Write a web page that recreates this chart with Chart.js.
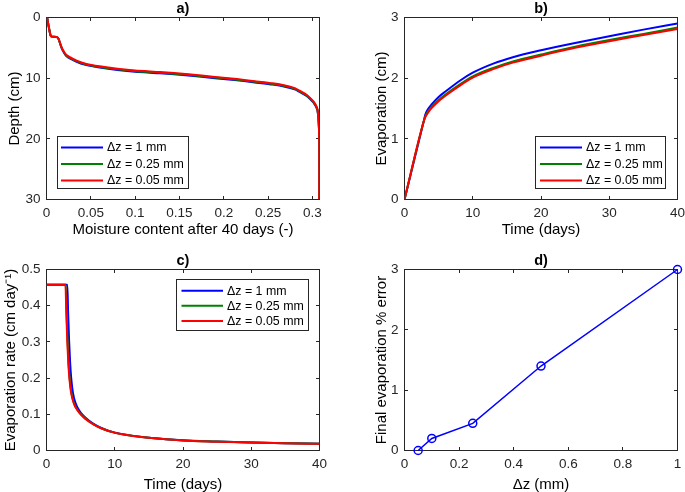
<!DOCTYPE html>
<html><head><meta charset="utf-8">
<script src="https://cdn.jsdelivr.net/npm/chart.js@4.4.1/dist/chart.umd.min.js"></script>
<style>
html,body{margin:0;padding:0;background:#fff;}
#wrap{position:relative;width:685px;height:492px;overflow:hidden;background:#fff;}
canvas{position:absolute;left:0;top:0;}
</style></head><body><div id="wrap">
<canvas id="ca" width="685" height="492"></canvas>
<canvas id="cb" width="685" height="492"></canvas>
<canvas id="cc" width="685" height="492"></canvas>
<canvas id="cd" width="685" height="492"></canvas>
</div>
<script>
// ---------- DATA ----------
const seriesLabels = ['\u0394z = 1 mm', '\u0394z = 0.25 mm', '\u0394z = 0.05 mm'];

// a) moisture profile after 40 days
const thetaA     = [0.0007,0.0025,0.0045,0.006,0.011,0.0135,0.0155,0.0176,0.0226,0.034,0.045,0.06,0.08,0.1,0.128,0.16,0.19,0.215,0.235,0.255,0.269,0.28,0.286,0.293,0.2976,0.302,0.3055,0.307,0.3077,0.3077];
const depthRed   = [0,1.5,2.9,3.15,3.2,3.5,4.3,5.1,6.2,7.1,7.65,8.05,8.45,8.75,9.0,9.35,9.8,10.15,10.5,10.85,11.2,11.65,12.1,12.7,13.3,14.0,15.0,17,20,30];
const depthGreen = [0,1.5,2.9,3.15,3.2,3.5,4.35,5.17,6.3,7.2,7.75,8.15,8.55,8.85,9.1,9.45,9.9,10.25,10.6,10.95,11.3,11.75,12.2,12.8,13.4,14.1,15.1,17.1,20,30];
const depthBlue  = [0,1.5,2.9,3.15,3.2,3.5,4.4,5.25,6.4,7.3,7.85,8.25,8.65,8.95,9.2,9.55,10.0,10.35,10.7,11.05,11.4,11.85,12.3,12.9,13.5,14.2,15.2,17.2,20,30];
const xTicksA = [0,0.05,0.1,0.15,0.2,0.25,0.3];
const yTicksA = [0,10,20,30];

// b) cumulative evaporation
const timeB      = [0,2.8,3.05,3.5,4,5,6,8,10,13,16,20,25,30,35,40];
const evapBlue   = [0,1.28,1.40,1.50,1.57,1.69,1.78,1.95,2.09,2.24,2.35,2.46,2.58,2.69,2.80,2.90];
const evapGreen  = [0,1.28,1.37,1.46,1.53,1.64,1.73,1.89,2.03,2.17,2.28,2.39,2.52,2.63,2.73,2.835];
const evapRed    = [0,1.28,1.36,1.44,1.51,1.62,1.71,1.87,2.01,2.15,2.26,2.37,2.50,2.61,2.71,2.81];
const xTicksB = [0,10,20,30,40];
const yTicksB = [0,1,2,3];

// c) evaporation rate
const timeCBlue  = [0,3.05,3.17,3.32,3.47,3.62,3.87,4.27,4.75,5.3,6.2,7.15,8.3,9.9,12,15,20,25,30,35,40];
const rateBlue   = [0.458,0.458,0.38,0.30,0.24,0.20,0.16,0.13,0.112,0.098,0.083,0.071,0.06,0.05,0.0425,0.0355,0.028,0.025,0.0224,0.0203,0.0187];
const timeCGreen = [0,2.82,2.94,3.09,3.24,3.39,3.64,4.04,4.54,5.14,6.03,7.02,8.2,9.8,12,15,20,25,30,35,40];
const rateGreen  = [0.458,0.458,0.38,0.30,0.24,0.20,0.16,0.13,0.112,0.098,0.083,0.071,0.06,0.05,0.042,0.0352,0.0278,0.0247,0.0222,0.0201,0.0185];
const timeCRed   = [0,2.78,2.9,3.05,3.2,3.35,3.6,4.0,4.5,5.1,6.0,7.0,8.2,9.8,12,15,20,25,30,35,40];
const rateRed    = [0.458,0.458,0.38,0.30,0.24,0.20,0.16,0.13,0.112,0.098,0.083,0.071,0.06,0.05,0.042,0.035,0.0276,0.0245,0.022,0.020,0.0184];
const xTicksC = [0,10,20,30,40];
const yTicksC = [0,0.1,0.2,0.3,0.4,0.5];

// d) final evaporation error
const dzD  = [0.05,0.1,0.25,0.5,1];
const errD = [0,0.2,0.45,1.4,3];
const xTicksD = [0,0.2,0.4,0.6,0.8,1];
const yTicksD = [0,1,2,3];

// ---------- STYLE ----------
const FONT = "'Liberation Sans', Arial, Helvetica, sans-serif";
const AXC = '#262626';
const COLORS = ['#0000ff', '#008000', '#ff0000'];
const W = 685, H = 492;

const pts = (xs, ys) => xs.map((v, i) => ({x: v, y: ys[i]}));
const fmt = v => String(parseFloat(Number(v).toFixed(6)));

const matlabPlugin = {
  id: 'matlab',
  beforeDatasetsDraw(chart, args, opts) {
    const {ctx, chartArea: a, scales: {x, y}} = chart;
    ctx.save();
    ctx.strokeStyle = AXC; ctx.lineWidth = 1;
    ctx.strokeRect(a.left, a.top, a.right - a.left, a.bottom - a.top);
    const tl = 3.5;
    ctx.beginPath();
    x.ticks.forEach(t => {
      const p = Math.round(x.getPixelForValue(t.value) - 0.5) + 0.5;
      ctx.moveTo(p, a.bottom); ctx.lineTo(p, a.bottom - tl);
      ctx.moveTo(p, a.top); ctx.lineTo(p, a.top + tl);
    });
    y.ticks.forEach(t => {
      const p = Math.round(y.getPixelForValue(t.value) - 0.5) + 0.5;
      ctx.moveTo(a.left, p); ctx.lineTo(a.left + tl, p);
      ctx.moveTo(a.right, p); ctx.lineTo(a.right - tl, p);
    });
    ctx.stroke();
    ctx.fillStyle = '#000';
    ctx.font = 'bold 14.5px ' + FONT;
    ctx.textAlign = 'center'; ctx.textBaseline = 'alphabetic';
    ctx.fillText(opts.title, (a.left + a.right) / 2, a.top - 5);
    ctx.restore();
  },
  afterDraw(chart, args, opts) {
    const lg = opts.legend;
    if (!lg) return;
    const ctx = chart.ctx;
    ctx.save();
    ctx.fillStyle = '#fff';
    ctx.fillRect(lg.x, lg.y, lg.w, lg.h);
    ctx.strokeStyle = AXC; ctx.lineWidth = 1;
    ctx.strokeRect(lg.x, lg.y, lg.w, lg.h);
    ctx.font = '12.4px ' + FONT;
    ctx.textAlign = 'left'; ctx.textBaseline = 'middle';
    chart.data.datasets.forEach((ds, i) => {
      const ry = lg.rows[i];
      ctx.strokeStyle = ds.borderColor; ctx.lineWidth = 2;
      ctx.beginPath(); ctx.moveTo(lg.l1, ry); ctx.lineTo(lg.l2, ry); ctx.stroke();
      ctx.fillStyle = '#000';
      ctx.fillText(ds.label, lg.tx, ry + 0.5);
    });
    ctx.restore();
  }
};

function axis(geo, which, o) {
  const isX = which === 'x';
  return {
    type: 'linear',
    min: o.min, max: o.max, reverse: !!o.reverse,
    afterBuildTicks: s => { s.ticks = o.ticks.map(v => ({value: v})); },
    afterFit: s => {
      if (isX) s.height = geo.xH; else s.width = geo.yW;
      s.paddingLeft = 0; s.paddingRight = 0; s.paddingTop = 0; s.paddingBottom = 0;
    },
    grid: {display: false, drawTicks: false},
    border: {display: false},
    ticks: {
      color: AXC, padding: isX ? 6 : 6,
      font: {family: FONT, size: 13.5},
      callback: v => fmt(v), maxRotation: 0, autoSkip: false
    },
    title: {
      display: true, text: o.title, color: '#000', padding: 0,
      font: {family: FONT, size: 15, lineHeight: 0.8}
    }
  };
}

function geometry(L, R, T, B, yTitleX, xTitleY) {
  const sl = yTitleX - 6, sb = xTitleY + 6;
  return {
    yW: L - sl, xH: sb - B,
    pad: {left: sl, top: T, right: W - R, bottom: H - sb}
  };
}

function lineDs(i, data, extra) {
  return Object.assign({
    label: seriesLabels[i], data: data,
    borderColor: COLORS[i], backgroundColor: COLORS[i],
    borderWidth: 2, pointRadius: 0, fill: false, order: 3 - i
  }, extra || {});
}

function makeChart(id, geo, datasets, xo, yo, pluginOpts) {
  return new Chart(document.getElementById(id), {
    type: 'line',
    data: {datasets: datasets},
    options: {
      responsive: false, animation: false, events: [],
      layout: {padding: geo.pad},
      plugins: {legend: {display: false}, tooltip: {enabled: false}, matlab: pluginOpts},
      scales: {x: axis(geo, 'x', xo), y: axis(geo, 'y', yo)}
    },
    plugins: [matlabPlugin]
  });
}

// a)
const gA = geometry(46.5, 319.5, 17.5, 199.5, 15, 230);
makeChart('ca', gA, [
  lineDs(0, pts(thetaA, depthBlue), {tension: 0.2}),
  lineDs(1, pts(thetaA, depthGreen), {tension: 0.2}),
  lineDs(2, pts(thetaA, depthRed), {tension: 0.2})
], {min: 0, max: 0.308, ticks: xTicksA, title: 'Moisture content after 40 days (-)'},
   {min: 0, max: 30, reverse: true, ticks: yTicksA, title: 'Depth (cm)'},
   {title: 'a)', legend: {x: 57.5, y: 136.5, w: 131, h: 52, rows: [147.5, 164, 180.5], l1: 61, l2: 103, tx: 107}});

// b)
const gB = geometry(404.5, 677.5, 17.5, 199.5, 381.7, 230);
makeChart('cb', gB, [
  lineDs(0, pts(timeB, evapBlue), {cubicInterpolationMode: 'monotone'}),
  lineDs(1, pts(timeB, evapGreen), {cubicInterpolationMode: 'monotone'}),
  lineDs(2, pts(timeB, evapRed), {cubicInterpolationMode: 'monotone'})
], {min: 0, max: 40, ticks: xTicksB, title: 'Time (days)'},
   {min: 0, max: 3, ticks: yTicksB, title: 'Evaporation (cm)'},
   {title: 'b)', legend: {x: 535.5, y: 136.5, w: 130, h: 52, rows: [147.5, 164, 180.5], l1: 540, l2: 582, tx: 586}});

// c)
const gC = geometry(46.5, 319.5, 269.5, 450.5, 11, 485);
makeChart('cc', gC, [
  lineDs(0, pts(timeCBlue, rateBlue), {cubicInterpolationMode: 'monotone'}),
  lineDs(1, pts(timeCGreen, rateGreen), {cubicInterpolationMode: 'monotone'}),
  lineDs(2, pts(timeCRed, rateRed), {cubicInterpolationMode: 'monotone'})
], {min: 0, max: 40, ticks: xTicksC, title: 'Time (days)'},
   {min: 0, max: 0.5, ticks: yTicksC, title: 'Evaporation rate (cm day\u207B\u00B9)'},
   {title: 'c)', legend: {x: 176.5, y: 279.5, w: 132, h: 51, rows: [290.7, 305.7, 321], l1: 181.5, l2: 223, tx: 227}});

// d)
const gD = geometry(404.5, 677.5, 269.5, 450.5, 381.7, 485);
makeChart('cd', gD, [{
  label: 'error', data: pts(dzD, errD),
  borderColor: '#0000ff', backgroundColor: 'rgba(0,0,0,0)',
  borderWidth: 1.5, pointRadius: 4, pointBorderWidth: 1.5, pointStyle: 'circle',
  pointBackgroundColor: 'rgba(0,0,0,0)', tension: 0, clip: false
}], {min: 0, max: 1, ticks: xTicksD, title: '\u0394z (mm)'},
   {min: 0, max: 3, ticks: yTicksD, title: 'Final evaporation % error'},
   {title: 'd)'});
</script></body></html>
